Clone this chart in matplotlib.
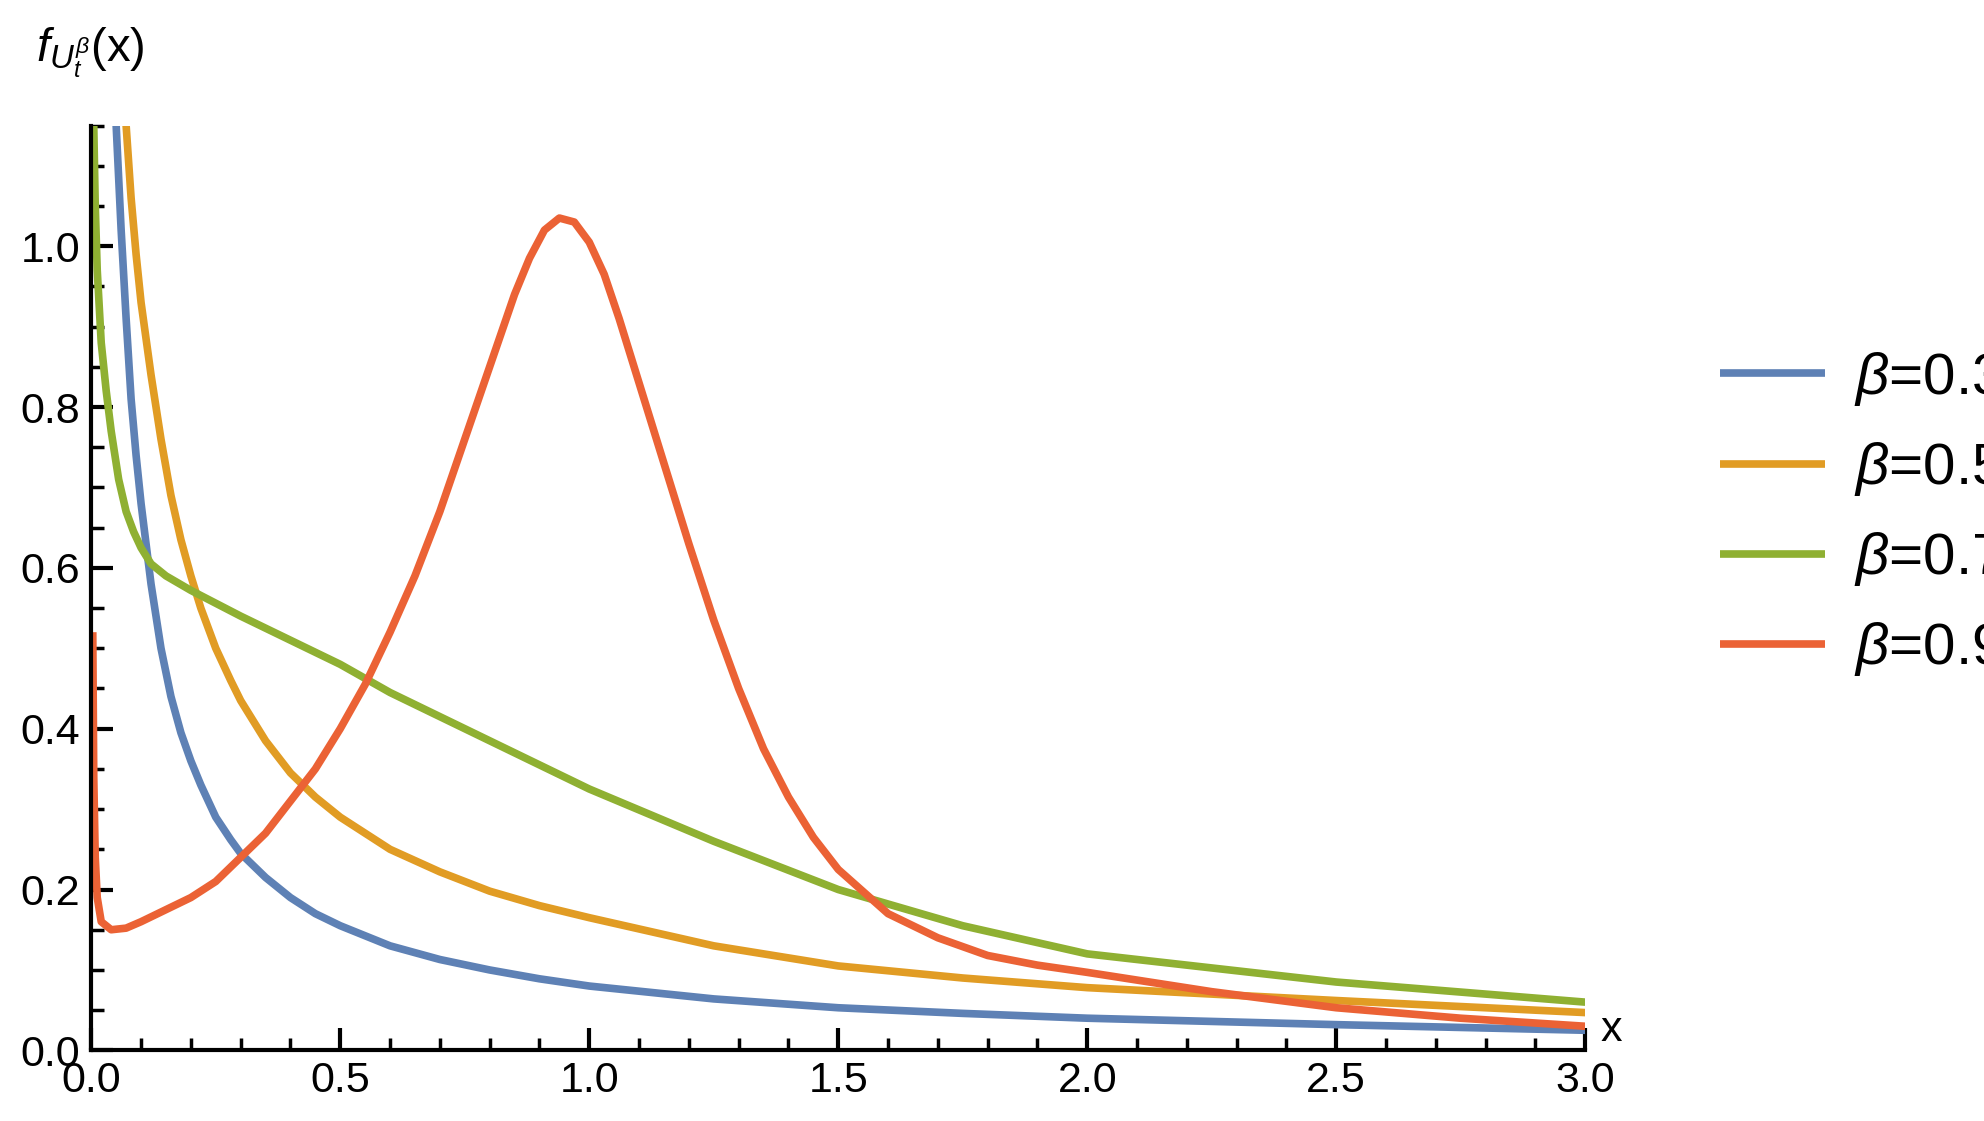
import matplotlib
matplotlib.use("Agg")
import matplotlib.pyplot as plt
from matplotlib.ticker import MultipleLocator

plt.rcParams["font.family"] = ["Liberation Sans", "DejaVu Sans"]
plt.rcParams["mathtext.fontset"] = "custom"
plt.rcParams["mathtext.it"] = "Liberation Sans:italic"
plt.rcParams["mathtext.rm"] = "Liberation Sans"

# values
x_b03 = [0.05, 0.06, 0.07, 0.08, 0.09, 0.1, 0.11, 0.12, 0.14, 0.16, 0.18, 0.2, 0.22, 0.25, 0.28, 0.3, 0.35, 0.4,
         0.45, 0.5, 0.6, 0.7, 0.8, 0.9, 1.0, 1.25, 1.5, 1.75, 2.0, 2.5, 3.0]
y_b03 = [1.15, 1.02, 0.91, 0.81, 0.74, 0.68, 0.63, 0.58, 0.50, 0.44, 0.395, 0.36, 0.33, 0.29, 0.262, 0.245, 0.215,
         0.19, 0.17, 0.155, 0.13, 0.113, 0.1, 0.089, 0.08, 0.064, 0.053, 0.046, 0.04, 0.032, 0.025]

x_b05 = [0.07, 0.08, 0.09, 0.1, 0.12, 0.14, 0.16, 0.18, 0.2, 0.22, 0.25, 0.28, 0.3, 0.35, 0.4, 0.45, 0.5, 0.6,
         0.7, 0.8, 0.9, 1.0, 1.25, 1.5, 1.75, 2.0, 2.5, 3.0]
y_b05 = [1.15, 1.06, 0.99, 0.93, 0.84, 0.76, 0.69, 0.635, 0.59, 0.55, 0.50, 0.46, 0.435, 0.385, 0.345, 0.315,
         0.29, 0.25, 0.222, 0.198, 0.18, 0.165, 0.13, 0.105, 0.09, 0.078, 0.062, 0.047]

x_b07 = [0.005, 0.008, 0.012, 0.02, 0.03, 0.04, 0.055, 0.07, 0.085, 0.1, 0.12, 0.15, 0.2, 0.3, 0.4, 0.5, 0.6,
         0.75, 1.0, 1.25, 1.5, 1.75, 2.0, 2.5, 3.0]
y_b07 = [1.15, 1.05, 0.97, 0.88, 0.82, 0.77, 0.71, 0.67, 0.645, 0.625, 0.605, 0.59, 0.572, 0.54, 0.51, 0.48,
         0.445, 0.40, 0.325, 0.26, 0.20, 0.155, 0.12, 0.085, 0.06]

x_b09 = [0.003, 0.005, 0.008, 0.012, 0.02, 0.04, 0.07, 0.1, 0.15, 0.2, 0.25, 0.3, 0.35, 0.4, 0.45, 0.5, 0.55,
         0.6, 0.65, 0.7, 0.75, 0.8, 0.85, 0.88, 0.91, 0.94, 0.97, 1.0, 1.03, 1.06, 1.1, 1.15, 1.2, 1.25, 1.3,
         1.35, 1.4, 1.45, 1.5, 1.6, 1.7, 1.8, 1.9, 2.0, 2.25, 2.5, 2.75, 3.0]
y_b09 = [0.52, 0.34, 0.24, 0.19, 0.16, 0.15, 0.152, 0.16, 0.175, 0.19, 0.21, 0.24, 0.27, 0.31, 0.35, 0.40,
         0.455, 0.52, 0.59, 0.67, 0.76, 0.85, 0.94, 0.985, 1.02, 1.035, 1.03, 1.005, 0.965, 0.91, 0.83, 0.73,
         0.63, 0.535, 0.45, 0.375, 0.315, 0.265, 0.225, 0.17, 0.14, 0.118, 0.106, 0.097, 0.073, 0.053, 0.04, 0.03]

series = [
    (r"$\beta$=0.3", x_b03, y_b03, "#5E81B5"),
    (r"$\beta$=0.5", x_b05, y_b05, "#E19C24"),
    (r"$\beta$=0.7", x_b07, y_b07, "#8FB032"),
    (r"$\beta$=0.9", x_b09, y_b09, "#EB6235"),
]

fig = plt.figure(figsize=(19.84, 11.21), dpi=100)
ax = fig.add_axes([0.046, 0.063, 0.753, 0.825])

for label, xs, ys, color in series:
    ax.plot(xs, ys, color=color, lw=5.5, label=label, solid_joinstyle="round", solid_capstyle="butt")

ax.set_xlim(0, 3.0)
ax.set_ylim(0, 1.15)
ax.xaxis.set_major_locator(MultipleLocator(0.5))
ax.xaxis.set_minor_locator(MultipleLocator(0.1))
ax.yaxis.set_major_locator(MultipleLocator(0.2))
ax.yaxis.set_minor_locator(MultipleLocator(0.05))
ax.xaxis.set_major_formatter(lambda v, p: f"{v:.1f}")
ax.yaxis.set_major_formatter(lambda v, p: f"{v:.1f}")
ax.tick_params(direction="in", which="major", length=16, width=3, labelsize=31, pad=8)
ax.tick_params(direction="in", which="minor", length=9, width=2.5)
for s in ["top", "right"]:
    ax.spines[s].set_visible(False)
for s in ["left", "bottom"]:
    ax.spines[s].set_linewidth(3)

ax.text(3.03, 0.0, "x", fontsize=31, va="bottom", ha="left", clip_on=False)
fig.text(0.018, 0.945, r"$f_{U_t^{\beta}}$(x)", fontsize=34, ha="left", va="baseline")

ax.legend(loc="center left", bbox_to_anchor=(1.055, 0.58), frameon=False,
          fontsize=42, handlelength=1.8, labelspacing=0.55, handletextpad=0.5)

fig.savefig("out.png", dpi=100)
